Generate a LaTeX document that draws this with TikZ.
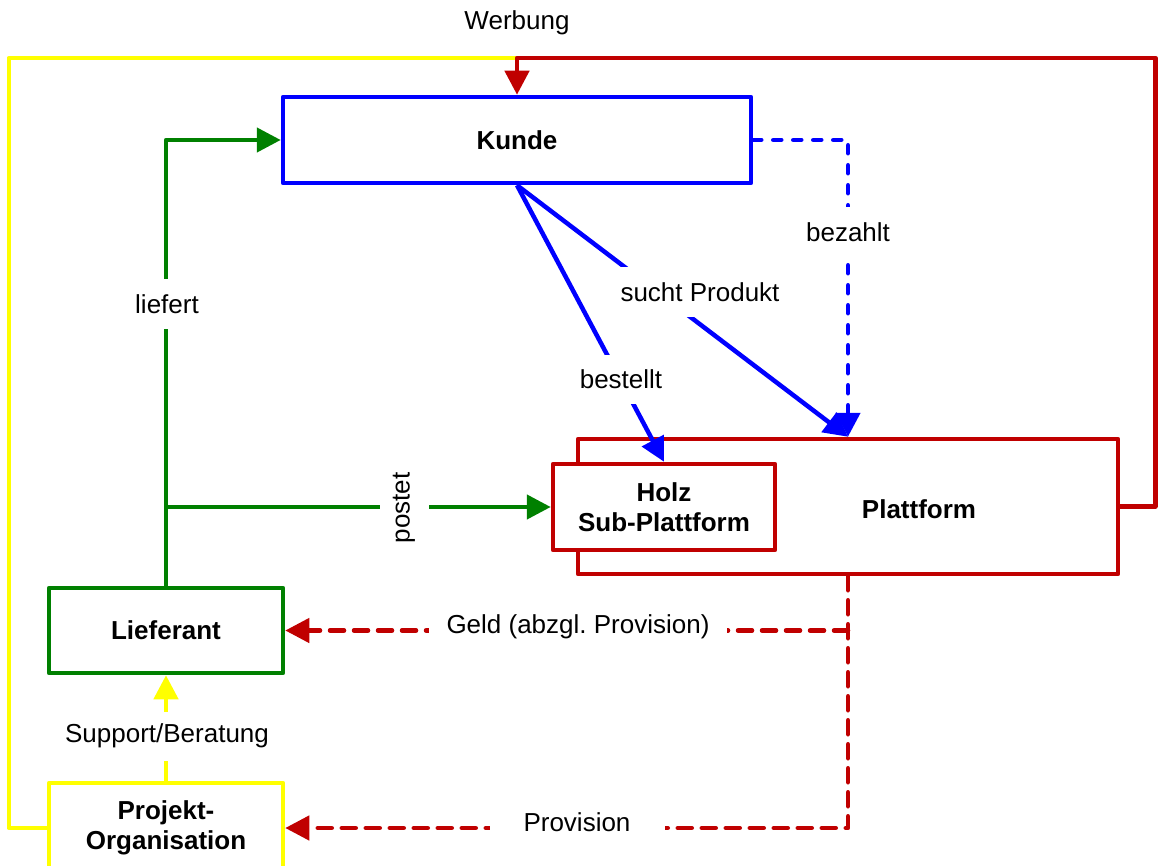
\documentclass[tikz,border=0pt]{standalone}
\usepackage{fontspec}
\setmainfont{Liberation Sans}
\usetikzlibrary{arrows.meta}
\definecolor{cblue}{RGB}{0,0,255}
\definecolor{cgreen}{RGB}{0,128,0}
\definecolor{cred}{RGB}{192,0,0}
\definecolor{cyellow}{RGB}{255,255,0}
\frenchspacing
\begin{document}
\begin{tikzpicture}[x=1pt,y=-1pt,
  font=\fontsize{26}{30}\selectfont,
  box/.style={draw=#1, line width=4.5pt, line join=round, fill=white, align=center,
    font=\fontsize{26}{30}\selectfont\bfseries, inner sep=0pt},
  conn/.style={line width=4.5pt, line join=round},
  tip/.style={-{Triangle[length=24pt,width=24pt]}},
  lbl/.style={fill=white, inner xsep=10pt, inner ysep=0pt, minimum height=49pt},
  bdash/.style={dash pattern=on 8pt off 12pt, line cap=round},
  rdash/.style={dash pattern=on 14pt off 10pt, line cap=round}]
\useasboundingbox (0,0) rectangle (1158,866);
\clip (0,0) rectangle (1158,866);

% boxes
\node[box=cblue, minimum width=468pt, minimum height=86pt] (kunde) at (517,140) {Kunde};
\node[box=cred, minimum width=540pt, minimum height=135pt] (plattform) at (848,506.5) {};
\node[font=\fontsize{26}{30}\selectfont\bfseries] (plattformtext) at (919,509) {Plattform};
\node[box=cred, minimum width=222pt, minimum height=86pt] (holz) at (664,507) {Holz\\Sub-Plattform};
\node[box=cgreen, minimum width=234pt, minimum height=85pt] (lieferant) at (166,630.5) {Lieferant};
\node[box=cyellow, minimum width=234pt, minimum height=90pt] (projekt) at (166,828) {Projekt-\\Organisation};

\coordinate (werbungjoin) at (517,58);

% Werbung
\draw[conn, cyellow] (projekt.west) -- ++(-38,0) |- (werbungjoin);
\draw[conn, cred, tip] (plattform.east) -- ++(35,0) |- (werbungjoin) -- (kunde.north);
\node (werbunglbl) at (517,23) {Werbung};

% green
\draw[conn, cgreen, tip] (lieferant.north) |- (kunde.west);
\draw[conn, cgreen, tip] (lieferant.north |- holz.west) -- (holz.west);
\node[lbl] (liefertlbl) at (167,304) {liefert};
\node[lbl, rotate=90] (postetlbl) at (404,508) {postet};

% blue
\draw[conn, cblue, bdash, tip] (kunde.east) -| (plattform.north);
\draw[conn, cblue, tip] (kunde.south) -- (holz.north);
\draw[conn, cblue, tip] (kunde.south) -- (plattform.north);
\node[lbl] (bezahltlbl) at (848,232) {bezahlt};
\node[lbl] (suchtlbl) at (700,292) {sucht Produkt};
\node[lbl] (bestelltlbl) at (621,379) {bestellt};

% red dashed
\coordinate (geldsplit) at (plattform.south |- lieferant.east);
\draw[conn, cred, rdash, tip] (plattform.south) |- (projekt.east);
\draw[conn, cred, rdash, tip] (geldsplit) -- (lieferant.east);
\node[lbl, minimum width=298pt] (geldlbl) at (578,627) {Geld (abzgl.\ Provision)};
\node[lbl, minimum width=175pt] (provlbl) at (577,822) {Provision};

% yellow
\draw[conn, cyellow, tip] (projekt.north) -- (lieferant.south);
\node[lbl] (supportlbl) at (167,736) {Support/Beratung};
\end{tikzpicture}
\end{document}
